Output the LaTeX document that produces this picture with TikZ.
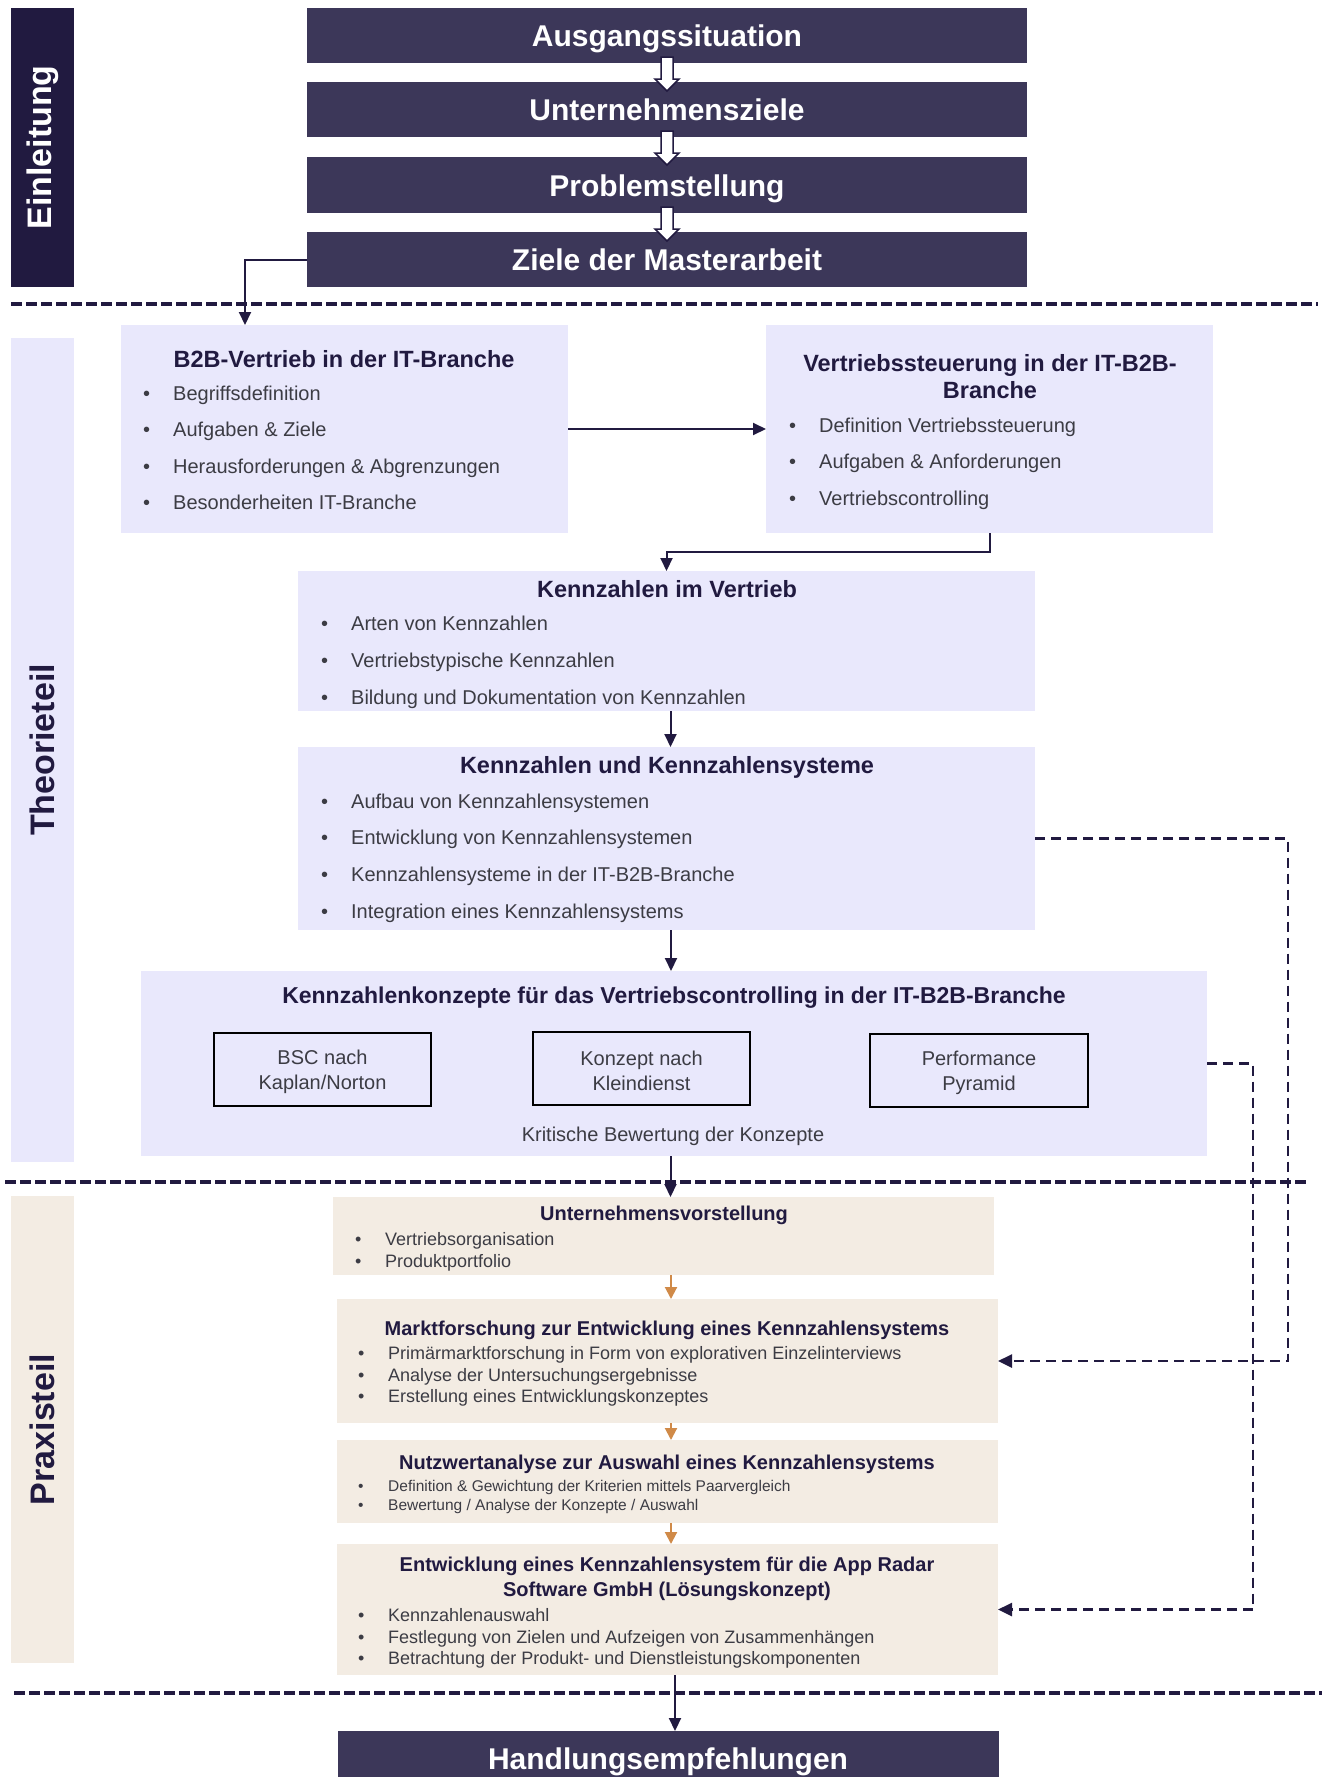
\documentclass[tikz,border=0pt]{standalone}
\usepackage{fontspec}
\setmainfont{Liberation Sans}
\usetikzlibrary{arrows.meta,fit,calc}

\definecolor{navy}{HTML}{211A40}
\definecolor{slate}{HTML}{3C3759}
\definecolor{lav}{HTML}{E9E8FC}
\definecolor{sand}{HTML}{F3ECE3}
\definecolor{ochre}{HTML}{D08A48}
\definecolor{ink}{HTML}{3C3C44}

\newcommand{\fs}[2]{\fontsize{#1bp}{#2bp}\selectfont}
\newcommand{\itm}[1]{\makebox[30bp][l]{\textbullet}#1}
% hollow downward arrow that starts 6bp above the bottom edge of a node
\newcommand{\hollowdown}[1]{%
  \draw[hollow] ($(#1.south)+(-6,-6)$) -- ++(12,0) -- ++(0,22) -- ++(6,0)
    -- ++(-12,12) -- ++(-12,-12) -- ++(6,0) -- cycle;}

\begin{document}
\begin{tikzpicture}[x=1bp,y=-1bp,
  box/.style={inner sep=0pt, outer sep=0pt, draw=none},
  headbox/.style={box, fill=slate},
  sidebar/.style={box},
  lavbox/.style={box, fill=lav},
  sandbox/.style={box, fill=sand},
  conceptbox/.style={box, fill=lav, draw=black, line width=2.5bp},
  headtext/.style={text=white, font=\bfseries\fs{30}{36}, inner sep=0pt,
    text height=22bp, text depth=0bp},
  sidetext/.style={font=\bfseries\fs{34}{40}, rotate=90, inner sep=0pt},
  ltitle/.style={text=navy, font=\bfseries\fs{23.5}{27}, inner sep=0pt, align=center},
  litem/.style={text=ink, font=\fs{20}{24}, inner sep=0pt, anchor=mid west, yshift=-5bp},
  ctext/.style={text=ink, font=\fs{20}{25}, inner sep=0pt, align=center, yshift=-2bp},
  ptitle/.style={text=navy, font=\bfseries\fs{20}{24.5}, inner sep=0pt, align=center},
  pitem/.style={text=ink, font=\fs{18}{22}, inner sep=0pt, anchor=mid west, yshift=-4.5bp},
  pitemsmall/.style={text=ink, font=\fs{15.5}{19}, inner sep=0pt, anchor=mid west, yshift=-3.5bp},
  conn/.style={draw=navy, line width=2bp, -{Triangle[length=13bp,width=12bp]}},
  oconn/.style={draw=ochre, line width=2bp, -{Triangle[length=12bp,width=12bp]}},
  dconn/.style={draw=navy, line width=2.5bp, dash pattern=on 10bp off 6bp,
    -{Triangle[length=14bp,width=13bp]}},
  separator/.style={draw=navy, line width=4bp, dash pattern=on 11bp off 4bp},
  hollow/.style={fill=white, draw=navy, line width=1.5bp, line join=miter}
]
\fill[white] (0,0) rectangle (1323,1777);
\useasboundingbox (0,0) rectangle (1323,1777);

% section separators
\draw[separator] (11,304) -- (1318,304);
\draw[separator] (5,1182) -- (1310,1182);
\draw[separator] (14,1693) -- (1322,1693);

% side bars
\node[sidebar, fill=navy, fit={(11,8) (74,287)}] (einl) {};
\node[sidebar, fill=lav, fit={(11,338) (74,1162)}] (theo) {};
\node[sidebar, fill=sand, fit={(11,1196) (74,1663)}] (prax) {};
\node[sidetext, text=white] at (einl) {Einleitung};
\node[sidetext, text=navy] at (theo) {Theorieteil};
\node[sidetext, text=navy] at (prax) {Praxisteil};

% introduction chain
\node[headbox, fit={(307,8) (1027,63)}] (t1) {};
\node[headbox, fit={(307,82) (1027,137)}] (t2) {};
\node[headbox, fit={(307,157) (1027,213)}] (t3) {};
\node[headbox, fit={(307,232) (1027,287)}] (t4) {};
\node[headtext] at (t1) {Ausgangssituation};
\node[headtext] at (t2) {Unternehmensziele};
\node[headtext] at (t3) {Problemstellung};
\node[headtext] at (t4) {Ziele der Masterarbeit};
\hollowdown{t1}
\hollowdown{t2}
\hollowdown{t3}

% theory part
\node[lavbox, fit={(121,325) (568,533)}] (b2b) {};
\node[ltitle] at (344,359) {B2B-Vertrieb in der IT-Branche};
\node[litem] at (143,393) {\itm{Begriffsdefinition}};
\node[litem] at (143,429) {\itm{Aufgaben \& Ziele}};
\node[litem] at (143,466) {\itm{Herausforderungen \& Abgrenzungen}};
\node[litem] at (143,502) {\itm{Besonderheiten IT-Branche}};

\node[lavbox, fit={(766,325) (1213,533)}] (vs) {};
\node[ltitle] at (990,377) {Vertriebssteuerung in der IT-B2B-\\Branche};
\node[litem] at (789,425) {\itm{Definition Vertriebssteuerung}};
\node[litem] at (789,461) {\itm{Aufgaben \& Anforderungen}};
\node[litem] at (789,498) {\itm{Vertriebscontrolling}};

\node[lavbox, fit={(298,571) (1035,711)}] (kiv) {};
\node[ltitle] at (667,589) {Kennzahlen im Vertrieb};
\node[litem] at (321,623) {\itm{Arten von Kennzahlen}};
\node[litem] at (321,660) {\itm{Vertriebstypische Kennzahlen}};
\node[litem] at (321,697) {\itm{Bildung und Dokumentation von Kennzahlen}};

\node[lavbox, fit={(298,747) (1035,930)}] (kuk) {};
\node[ltitle] at (667,767) {Kennzahlen und Kennzahlensysteme};
\node[litem] at (321,801) {\itm{Aufbau von Kennzahlensystemen}};
\node[litem] at (321,837) {\itm{Entwicklung von Kennzahlensystemen}};
\node[litem] at (321,874) {\itm{Kennzahlensysteme in der IT-B2B-Branche}};
\node[litem] at (321,911) {\itm{Integration eines Kennzahlensystems}};

\node[lavbox, fit={(141,971) (1207,1156)}] (konz) {};
\node[ltitle, font=\bfseries\fs{23}{27}] at (674,998) {Kennzahlenkonzepte für das Vertriebscontrolling in der IT-B2B-Branche};
\node[conceptbox, fit={(214,1033) (431,1106)}] (bsc) {};
\node[conceptbox, fit={(533,1032) (750,1105)}] (kln) {};
\node[conceptbox, fit={(870,1034) (1088,1107)}] (pp) {};
\node[ctext] at (bsc) {BSC nach\\Kaplan/Norton};
\node[ctext] at (kln) {Konzept nach\\Kleindienst};
\node[ctext] at (pp) {Performance\\Pyramid};
\node[ctext, yshift=2bp] at (673,1136) {Kritische Bewertung der Konzepte};

% practical part
\node[sandbox, fit={(333,1197) (994,1275)}] (uv) {};
\node[ptitle] at (664,1215) {Unternehmensvorstellung};
\node[pitem] at (355,1238) {\itm{Vertriebsorganisation}};
\node[pitem] at (355,1260) {\itm{Produktportfolio}};

\node[sandbox, fit={(337,1299) (998,1423)}] (mf) {};
\node[ptitle] at (667,1330) {Marktforschung zur Entwicklung eines Kennzahlensystems};
\node[pitem] at (358,1352) {\itm{Primärmarktforschung in Form von explorativen Einzelinterviews}};
\node[pitem] at (358,1374) {\itm{Analyse der Untersuchungsergebnisse}};
\node[pitem] at (358,1395) {\itm{Erstellung eines Entwicklungskonzeptes}};

\node[sandbox, fit={(337,1440) (998,1523)}] (nw) {};
\node[ptitle] at (667,1464) {Nutzwertanalyse zur Auswahl eines Kennzahlensystems};
\node[pitemsmall] at (358,1485) {\itm{Definition \& Gewichtung der Kriterien mittels Paarvergleich}};
\node[pitemsmall] at (358,1504) {\itm{Bewertung / Analyse der Konzepte / Auswahl}};

\node[sandbox, fit={(337,1544) (998,1675)}] (ent) {};
\node[ptitle] at (667,1579) {Entwicklung eines Kennzahlensystem für die App Radar\\Software GmbH (Lösungskonzept)};
\node[pitem] at (358,1614) {\itm{Kennzahlenauswahl}};
\node[pitem] at (358,1636) {\itm{Festlegung von Zielen und Aufzeigen von Zusammenhängen}};
\node[pitem] at (358,1657) {\itm{Betrachtung der Produkt- und Dienstleistungskomponenten}};

\node[headbox, fit={(338,1731) (999,1777)}] (hand) {};
\node[headtext] at (668,1758.5) {Handlungsempfehlungen};

% connectors
\draw[conn] (t4.west) -| ($(b2b.north west)+(124,0)$);
\draw[conn] (b2b.east) -- (vs.west);
\draw[conn] (vs.south) -- ++(0,19) -| (kiv.north);
\draw[conn] ([xshift=4bp]kiv.south) -- ([xshift=4bp]kiv.south |- kuk.north);
\draw[conn] ([xshift=4.5bp]kuk.south) -- ([xshift=4.5bp]kuk.south |- konz.north);
\draw[conn] ([xshift=-3.5bp]konz.south) -- ([xshift=-3.5bp]konz.south |- uv.north);
\draw[oconn] ([xshift=3.5bp]mf.north |- uv.south) -- ([xshift=3.5bp]mf.north);
\draw[oconn] ([xshift=3.5bp]mf.south) -- ([xshift=3.5bp]nw.north);
\draw[oconn] ([xshift=3.5bp]nw.south) -- ([xshift=3.5bp]ent.north);
\draw[conn] ([xshift=7.5bp]ent.south) -- ([xshift=7.5bp]ent.south |- hand.north);
\draw[dconn] (kuk.east) -- ++(253,0) |- (mf.east);
\draw[dconn] (konz.east) -- ++(46,0) |- (ent.east);
\end{tikzpicture}
\end{document}
